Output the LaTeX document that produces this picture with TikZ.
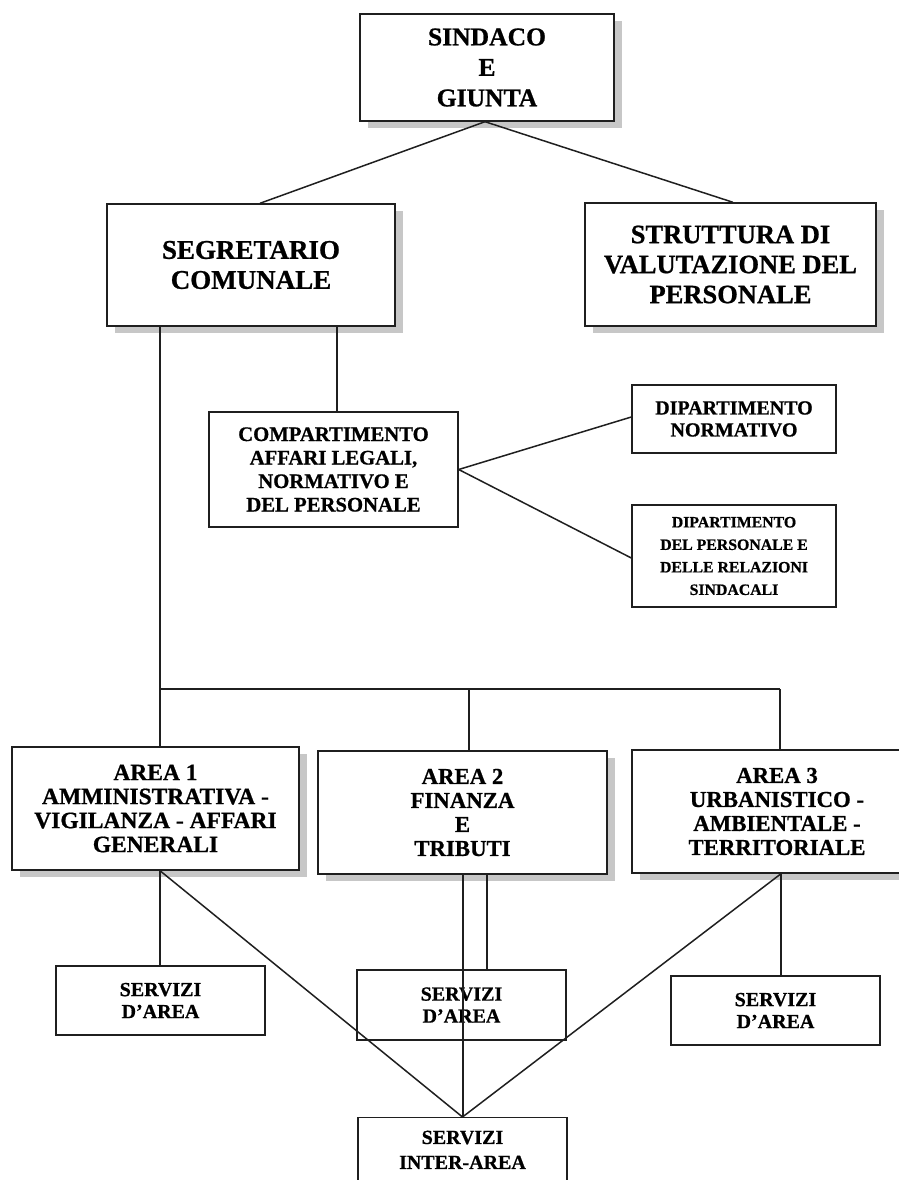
\documentclass[tikz,border=0pt]{standalone}
\usepackage{fontspec}
\setmainfont{Liberation Serif}[BoldFeatures={FakeBold=0.8}]
\usetikzlibrary{calc,shadows}
\definecolor{ink}{gray}{0.12}
\definecolor{shadowgray}{gray}{0.78}
\tikzset{
  box/.style={draw=ink, line width=1.4pt, fill=white, align=center, inner sep=2pt, font=\bfseries},
  shbox/.style={box, general shadow={fill=shadowgray, shadow xshift=8pt, shadow yshift=-7pt}},
  conn/.style={draw=ink, line width=1.5pt},
  ftop/.style={font=\fontsize{25.6}{30.5}\selectfont\bfseries},
  fseg/.style={font=\fontsize{27}{30}\selectfont\bfseries},
  fstr/.style={font=\fontsize{26.5}{30}\selectfont\bfseries},
  fcomp/.style={font=\fontsize{20.7}{23.5}\selectfont\bfseries},
  fdipn/.style={font=\fontsize{20}{22}\selectfont\bfseries},
  fdipp/.style={font=\fontsize{15.8}{22.5}\selectfont\bfseries},
  fareaA/.style={font=\fontsize{23.5}{24}\selectfont\bfseries},
  farea/.style={font=\fontsize{22.8}{24}\selectfont\bfseries},
  fserv/.style={font=\fontsize{20}{22}\selectfont\bfseries},
  finter/.style={font=\fontsize{20}{25}\selectfont\bfseries},
}
\begin{document}
\begin{tikzpicture}[x=1pt,y=-1pt]
\useasboundingbox[fill=white] (0,0) rectangle (899,1180);
\begin{scope}
\clip (0,0) rectangle (899,1180);

% top level
\node[shbox,ftop, minimum width=254pt, minimum height=107pt] (sind) at (487,67.5) {SINDACO\\E\\GIUNTA};
\node[shbox,fseg, minimum width=288pt, minimum height=122pt] (seg) at (251,265) {SEGRETARIO\\COMUNALE};
\node[shbox,fstr, minimum width=291pt, minimum height=123pt] (str) at (730.5,264.5) {STRUTTURA DI\\VALUTAZIONE DEL\\PERSONALE};

% compartimento and dipartimenti
\node[box,fcomp, minimum width=249pt, minimum height=115pt] (comp) at (333.5,469.5) {COMPARTIMENTO\\AFFARI LEGALI,\\NORMATIVO E\\DEL PERSONALE};
\node[box,fdipn, minimum width=204pt, minimum height=68pt] (dipn) at (734,419) {DIPARTIMENTO\\NORMATIVO};
\node[box,fdipp, minimum width=204pt, minimum height=102pt] (dipp) at (734,556) {DIPARTIMENTO\\DEL PERSONALE E\\DELLE RELAZIONI\\SINDACALI};

% areas
\node[shbox,fareaA, minimum width=287pt, minimum height=123pt] (a1) at (155.5,808.5) {AREA 1\\AMMINISTRATIVA -\\VIGILANZA - AFFARI\\GENERALI};
\node[shbox,farea, minimum width=289pt, minimum height=123pt] (a2) at (462.5,812.5) {AREA 2\\FINANZA\\E\\TRIBUTI};
\node[shbox,farea, minimum width=290pt, minimum height=123pt] (a3) at (777,811.5) {AREA 3\\URBANISTICO -\\AMBIENTALE -\\TERRITORIALE};

% servizi
\node[box,fserv, minimum width=209pt, minimum height=69pt] (s1) at (160.5,1000.5) {SERVIZI\\D’AREA};
\node[box,fserv, minimum width=209pt, minimum height=70pt] (s2) at (461.5,1005) {SERVIZI\\D’AREA};
\node[box,fserv, minimum width=209pt, minimum height=69pt] (s3) at (775.5,1010.5) {SERVIZI\\D’AREA};
\node[box,finter, minimum width=209pt, inner ysep=13pt, text depth=70pt, anchor=north] (inter) at (462.5,1117) {SERVIZI\\INTER-AREA};

% helper coordinates
\coordinate (apex) at ($(sind.south)+(-2,0)$);
\coordinate (segL) at ($(seg.south)+(-91,0)$);
\coordinate (segR) at ($(seg.south)+(86,0)$);
\coordinate (busL) at (segL |- 0,689);
\coordinate (busM) at (469,689);
\coordinate (busR) at (780,689);
\coordinate (a2L) at (463,0);
\coordinate (a2R) at (487,0);
\coordinate (a3C) at (781,0);

% connectors
\draw[conn] (apex) -- ($(seg.north)+(9,0)$);
\draw[conn] (apex) -- ($(str.north)+(2.5,0)$);
\draw[conn] (segR) -- (segR |- comp.north);
\draw[conn] (segL) -- (segL |- a1.north);
\draw[conn] (busL) -- (busR);
\draw[conn] (busM) -- (busM |- a2.north);
\draw[conn] (busR) -- (busR |- a3.north);
\draw[conn] (comp.east) -- ($(dipn.west)+(0,-2)$);
\draw[conn] (comp.east) -- ($(dipp.west)+(0,2)$);

\draw[conn] (a1.south -| segL) -- (s1.north -| segL);
\draw[conn] (a1.south -| segL) -- (inter.north);
\draw[conn] (a2.south -| a2L) -- (inter.north -| a2L);
\draw[conn] (a2.south -| a2R) -- (s2.north -| a2R);
\draw[conn] (a3.south -| a3C) -- (s3.north -| a3C);
\draw[conn] (a3.south -| a3C) -- (inter.north);
\end{scope}
\end{tikzpicture}
\end{document}
